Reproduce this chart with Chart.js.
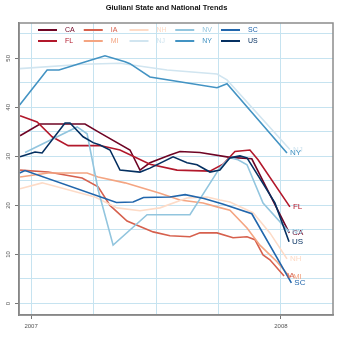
<!DOCTYPE html>
<html>
<head>
<meta charset="utf-8">
<script src="https://cdn.jsdelivr.net/npm/chart.js@4.4.1/dist/chart.umd.min.js"></script>
<style>
  html, body { margin: 0; padding: 0; background: #fff; }
</style>
</head>
<body>
<canvas id="chart" width="340" height="337"></canvas>
<script>
// points are [months since Jan 2007, percent]
const states = ['CA', 'FL', 'IA', 'MI', 'NH', 'NJ', 'NV', 'NY', 'SC', 'US'];
const colors = ['#6e0525', '#b2182b', '#d6604d', '#f4a582', '#fddbc7', '#d1e5f0', '#92c5de', '#4393c3', '#2166ac', '#053061'];

const CA = [[-0.53, 34.2], [0.43, 36.6], [2.59, 36.6], [3.31, 34.8], [4.75, 31.3], [5.23, 27.2], [5.71, 28.7], [6.67, 30.3], [7.15, 31.0], [8.11, 30.8], [9.55, 29.8], [10.6, 29.5], [12.4, 14.4]];
const FL = [[-0.53, 38.3], [0.29, 37.0], [1.01, 34.0], [1.78, 32.2], [3.31, 32.2], [4.27, 31.3], [5.71, 28.4], [7.01, 27.2], [8.59, 27.0], [9.22, 28.4], [9.79, 31.0], [10.51, 31.3], [10.9, 29.3], [12.43, 19.7]];
const IA = [[-0.53, 27.2], [0.82, 26.8], [2.45, 25.6], [3.22, 23.8], [3.79, 20.0], [4.61, 16.8], [5.86, 14.6], [6.67, 13.8], [7.63, 13.6], [8.11, 14.4], [8.93, 14.4], [9.7, 13.4], [10.37, 13.6], [10.75, 13.0], [11.14, 9.9], [11.47, 8.9], [12.15, 5.6]];
const MI = [[-0.53, 25.8], [0.82, 26.6], [2.69, 26.6], [3.22, 25.8], [4.51, 24.6], [6.19, 22.5], [7.15, 21.1], [8.26, 20.5], [8.93, 19.7], [9.55, 19.0], [10.37, 15.4], [10.99, 11.9], [11.81, 8.5], [12.43, 5.4]];
const NH = [[-0.53, 23.4], [0.53, 24.6], [3.07, 21.7], [4.13, 19.5], [5.23, 18.9], [6.19, 19.5], [7.49, 21.5], [8.45, 21.7], [9.07, 21.1], [9.55, 20.7], [10.66, 18.5], [11.47, 14.4], [12.29, 9.1]];
const NJ = [[-0.55, 47.9], [2.5, 48.8], [4.27, 49.0], [6.53, 47.6], [8.93, 46.8], [9.41, 45.6], [12.43, 31.4]];
const NV = [[-0.29, 30.8], [2.21, 36.0], [2.69, 34.6], [3.22, 23.2], [3.94, 11.9], [5.57, 18.1], [7.63, 18.1], [9.07, 27.7], [9.55, 29.7], [9.94, 29.3], [10.37, 28.3], [11.14, 20.5], [12.39, 14.6]];
const NY = [[-0.55, 40.5], [0.77, 47.6], [1.34, 47.6], [2.93, 49.7], [3.55, 50.5], [4.51, 49.3], [4.75, 48.9], [5.71, 46.2], [8.93, 44.0], [9.41, 44.8], [12.29, 30.7]];
const SC = [[-0.55, 26.6], [-0.29, 27.1], [4.1, 20.6], [4.9, 20.7], [5.4, 21.6], [6.67, 21.7], [7.4, 22.2], [8.3, 21.4], [9.2, 20.3], [10.6, 18.3], [12.5, 4.2]];
const US = [[-0.53, 29.9], [0.19, 30.9], [0.53, 30.7], [1.63, 36.8], [1.87, 36.8], [2.5, 34.0], [2.98, 32.8], [3.31, 32.3], [3.79, 31.3], [4.27, 27.2], [5.23, 26.8], [5.71, 27.6], [6.82, 29.9], [7.49, 28.7], [7.97, 28.3], [8.59, 26.8], [9.07, 27.2], [9.55, 29.7], [10.03, 30.1], [10.37, 29.7], [11.09, 24.8], [11.71, 20.5], [12.39, 12.6]];
const seriesData = [CA, FL, IA, MI, NH, NJ, NV, NY, SC, US];

const xTicks = [0, 3, 6, 9, 12];
const xTickLabels = { 0: '2007', 12: '2008' };
const yTicks = [0, 5, 10, 15, 20, 25, 30, 35, 40, 45, 50, 55];

const FONT = '"Liberation Sans", Arial, sans-serif';
const GRID = '#c6e3f0';
const AXIS = '#777';
const NONE = 'rgba(0,0,0,0)';

// grey box round the plot
const framePlugin = {
    id: 'frame',
    afterDatasetsDraw(chart) {
        const { ctx, chartArea: a } = chart;
        ctx.save();
        ctx.strokeStyle = '#8c8c8c';
        ctx.lineWidth = 1.5;
        ctx.strokeRect(a.left, a.top, a.right - a.left, a.bottom - a.top);
        ctx.restore();
    }
};

// legend inside the plot, two rows, filled column by column
const legendPlugin = {
    id: 'innerLegend',
    afterDraw(chart) {
        const ctx = chart.ctx;
        ctx.save();
        ctx.font = '7px ' + FONT;
        ctx.textBaseline = 'middle';
        states.forEach((s, i) => {
            const x = 38 + Math.floor(i / 2) * 45.75;
            const y = 30 + (i % 2) * 11;
            ctx.strokeStyle = colors[i];
            ctx.lineWidth = 2;
            ctx.beginPath();
            ctx.moveTo(x, y);
            ctx.lineTo(x + 19, y);
            ctx.stroke();
            ctx.fillStyle = colors[i];
            ctx.fillText(s, x + 27, y + 0.5);
        });
        ctx.restore();
    }
};

// state name at the end of each line
const endLabelPlugin = {
    id: 'endLabels',
    afterDraw(chart) {
        const ctx = chart.ctx;
        ctx.save();
        ctx.font = '8px ' + FONT;
        ctx.textBaseline = 'middle';
        chart.data.datasets.forEach((ds, i) => {
            const pts = chart.getDatasetMeta(i).data;
            const last = pts[pts.length - 1];
            ctx.fillStyle = colors[i];
            ctx.fillText(ds.label, last.x + 3, last.y);
        });
        ctx.restore();
    }
};

const ctx = document.getElementById('chart').getContext('2d');
new Chart(ctx, {
    type: 'line',
    data: {
        datasets: states.map((s, i) => ({
            label: s,
            data: seriesData[i].map(p => ({ x: p[0], y: p[1] })),
            borderColor: colors[i],
            backgroundColor: colors[i],
            borderWidth: 1.6,
            pointRadius: 0,
            tension: 0,
            fill: false,
            order: states.length - i
        }))
    },
    options: {
        responsive: false,
        animation: false,
        layout: { padding: { left: 0, right: 7, top: 0, bottom: 0 } },
        plugins: {
            legend: { display: false },
            tooltip: { enabled: false },
            title: {
                display: true,
                text: 'Giuliani State and National Trends',
                color: '#111',
                font: { family: FONT, size: 7.5, weight: 'bold' },
                padding: { top: 3.5, bottom: 10.5 }
            }
        },
        scales: {
            x: {
                type: 'linear',
                min: -0.58,
                max: 14.5,
                afterBuildTicks: s => { s.ticks = xTicks.map(v => ({ value: v })); },
                afterFit: s => { s.height = 22; },
                ticks: {
                    callback: v => xTickLabels[v] || '',
                    autoSkip: false,
                    maxRotation: 0,
                    padding: 4,
                    color: '#555',
                    font: { family: FONT, size: 6 }
                },
                grid: {
                    color: GRID,
                    lineWidth: 1,
                    tickLength: 4,
                    tickColor: c => (c.tick && xTickLabels[c.tick.value]) ? AXIS : NONE
                },
                border: { display: true, color: AXIS, width: 1.5 }
            },
            y: {
                min: -2.35,
                max: 57.2,
                afterBuildTicks: s => { s.ticks = yTicks.map(v => ({ value: v })); },
                afterFit: s => { s.width = 19; },
                ticks: {
                    callback: v => (v % 10 === 0 ? String(v) : ''),
                    autoSkip: false,
                    minRotation: 90,
                    maxRotation: 90,
                    crossAlign: 'center',
                    padding: 3,
                    color: '#555',
                    font: { family: FONT, size: 6 }
                },
                grid: {
                    color: GRID,
                    lineWidth: 1,
                    tickLength: 4,
                    tickColor: c => (c.tick && c.tick.value % 10 === 0) ? AXIS : NONE
                },
                border: { display: true, color: AXIS, width: 1.5 }
            }
        }
    },
    plugins: [framePlugin, legendPlugin, endLabelPlugin]
});
</script>
</body>
</html>
